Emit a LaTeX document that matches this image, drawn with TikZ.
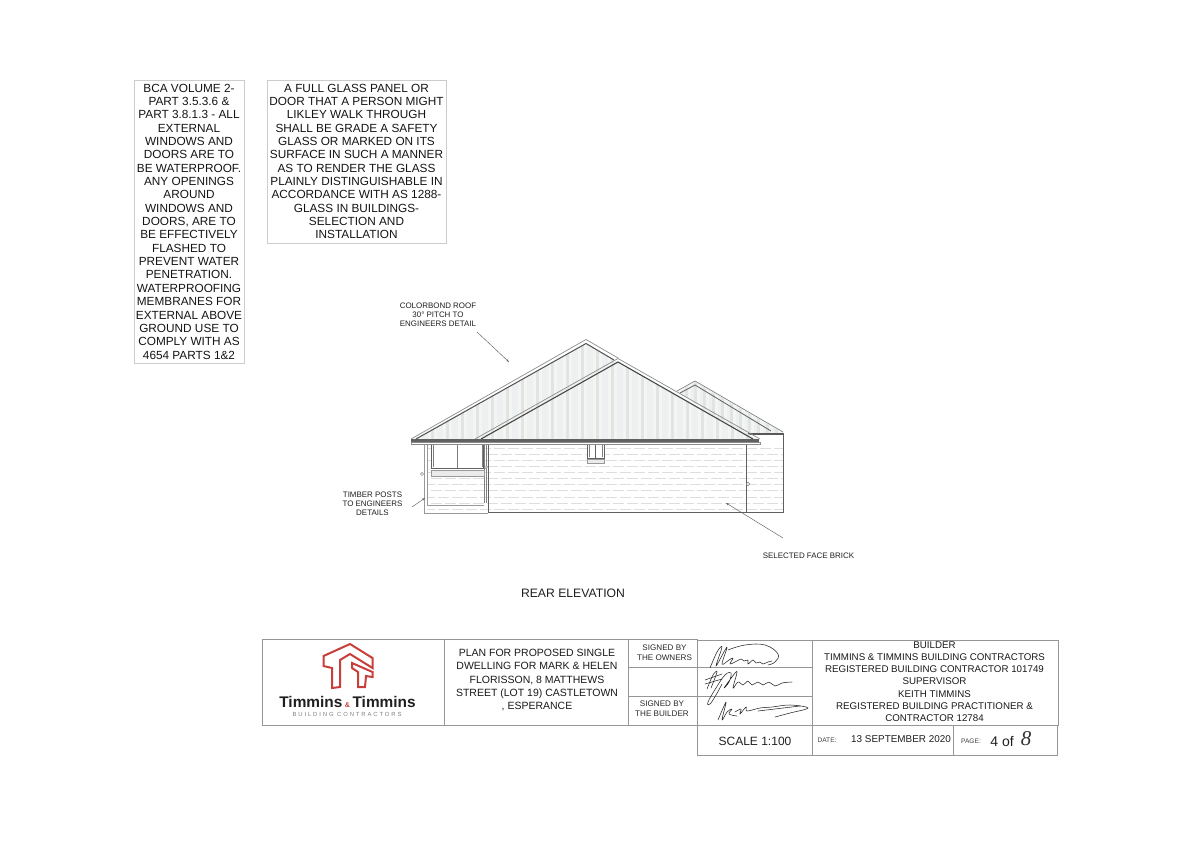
\documentclass[tikz,border=0pt]{standalone}
\usepackage{fontspec}
\setmainfont{Liberation Sans}
\newfontfamily\handfont{Liberation Serif}
\usetikzlibrary{arrows.meta}
\definecolor{logored}{RGB}{200,62,58}
\definecolor{linegray}{RGB}{95,95,95}
\definecolor{framegray}{RGB}{150,150,150}
\definecolor{roofa}{RGB}{236,240,240}
\definecolor{roofb}{RGB}{224,228,228}
\definecolor{roofc}{RGB}{244,244,240}
\tikzset{
	notebox/.style={draw=black!20,line width=.8pt,align=center,inner sep=0pt,text=black!92,font=\fontsize{11.8}{13.35}\selectfont},
	smalllabel/.style={align=center,inner sep=0pt,text=black!88,font=\fontsize{7.95}{9}\selectfont},
	blocktext/.style={align=center,inner sep=0pt,text=black!90,font=\fontsize{10.5}{13.3}\selectfont},
	signedtext/.style={align=center,inner sep=0pt,text=black!85,font=\fontsize{8.1}{9.6}\selectfont},
	leader/.style={draw=linegray,line width=.45pt,-{Stealth[length=3pt,width=2pt]}},
	wall/.style={draw=linegray,line width=.7pt},
	frame/.style={draw=framegray,line width=.8pt},
	sign/.style={draw=black!85,line width=.55pt,line cap=round,line join=round},
	logoline/.style={draw=logored,line width=2pt,line join=miter}
}
\begin{document}
\begin{tikzpicture}[x=1pt,y=-1pt]
	\useasboundingbox (0,0) rectangle (1196,844);
	% notes
	\node[notebox,minimum width=110pt,minimum height=283pt] (bcanote) at (189,221.5) {BCA VOLUME 2-\\PART 3.5.3.6 \&\\PART 3.8.1.3 - ALL\\EXTERNAL\\WINDOWS AND\\DOORS ARE TO\\BE WATERPROOF.\\ANY OPENINGS\\AROUND\\WINDOWS AND\\DOORS, ARE TO\\BE EFFECTIVELY\\FLASHED TO\\PREVENT WATER\\PENETRATION.\\WATERPROOFING\\MEMBRANES FOR\\EXTERNAL ABOVE\\GROUND USE TO\\COMPLY WITH AS\\4654 PARTS 1\&2};
	\node[notebox,minimum width=179pt,minimum height=163pt] (glassnote) at (356.5,161.5) {A FULL GLASS PANEL OR\\DOOR THAT A PERSON MIGHT\\LIKLEY WALK THROUGH\\SHALL BE GRADE A SAFETY\\GLASS OR MARKED ON ITS\\SURFACE IN SUCH A MANNER\\AS TO RENDER THE GLASS\\PLAINLY DISTINGUISHABLE IN\\ACCORDANCE WITH AS 1288-\\GLASS IN BUILDINGS-\\SELECTION AND\\INSTALLATION};
	% back roof
	\begin{scope}
		\clip (678,392) -- (695,382) -- (783,433) -- (740,433) -- cycle;
		\foreach \i in {0,...,36} {
			\pgfmathtruncatemacro{\shade}{mod(\i,3)}
			\ifcase\shade\def\tone{roofa}\or\def\tone{roofb}\else\def\tone{roofc}\fi
			\draw[\tone,line width=3.1pt] ({675+\i*3},375) -- ({675+\i*3},440);
		}
	\end{scope}
	\draw[black!50,line width=.7pt] (677,391) -- (695,381) -- (783,432);
	\draw[black!62,line width=.8pt] (680,393) -- (695,385) -- (771,431);
	\draw[black!65,line width=1.6pt] (748,434) -- (783,434);
	% main roofs
	\begin{scope}
		\clip (414,439) -- (586,343) -- (625,366) -- (757,439) -- cycle;
		\foreach \i in {0,...,118} {
			\pgfmathtruncatemacro{\shade}{mod(\i*\i+\i,5)}
			\ifcase\shade\def\tone{roofa}\or\def\tone{roofb}\or\def\tone{roofc}\or\def\tone{roofa}\else\def\tone{roofc}\fi
			\draw[\tone,line width=3.1pt] ({412+\i*3},335) -- ({412+\i*3},445);
		}
	\end{scope}
	\draw[black!45,line width=.7pt] (411,439) -- (586,339.5) -- (618,358);
	\draw[black!68,line width=1pt] (416,439) -- (586,343.5) -- (614,360);
	\draw[black!45,line width=.7pt] (475,439) -- (618,358.5) -- (760,439);
	\draw[black!72,line width=1.1pt] (481,439) -- (618,362) -- (753,439);
	\fill[black!62] (411,438.8) rectangle (759,442);
	\draw[black!45,line width=.5pt,fill=white] (411,442) rectangle (760,444.5);
	% brick
	\begin{scope}
		\clip (427,445) rectangle (783,512);
		\foreach \i in {0,...,10} {
			\pgfmathsetmacro{\off}{mod(\i,2)*7}
			\draw[black!13,line width=.6pt,dash pattern=on 11pt off 3pt,dash phase=\off pt] (424,{448+\i*6.1}) -- (783,{448+\i*6.1});
		}
		\fill[white] (431,444) rectangle (484,476);
		\fill[white] (587,444) rectangle (604,463);
	\end{scope}
	% walls
	\draw[wall] (488,445) -- (488,512) -- (783,512) -- (783,433);
	\draw[wall] (746,445) -- (746,512);
	\draw[black!40,line width=.6pt] (424,445) -- (424,513) -- (488,513);
	\draw[black!40,line width=.6pt] (427,445) -- (427,505) -- (484,505);
	\draw[black!50,line width=.7pt] (484,445) -- (484,503) (486,445) -- (486,503);
	\draw[black!50,line width=.5pt,fill=white] (748,484) circle (1.8pt);
	\draw[black!50,line width=.5pt,fill=white] (422,474) circle (1.6pt);
	\draw[black!50,line width=.5pt,fill=white] (486,467) circle (1.4pt);
	% windows
	\draw[black!62,line width=.8pt] (431.5,445) -- (431.5,468) -- (483,468) -- (483,445);
	\draw[black!50,line width=.6pt] (433,445) -- (433,467) (482,445) -- (482,467) (457,445) -- (457,468);
	\draw[black!40,line width=.6pt,fill=black!8] (431,470) rectangle (484,476);
	\draw[black!62,line width=.8pt] (587.5,445) -- (587.5,458) -- (604,458) -- (604,445) (595.5,445) -- (595.5,458);
	\draw[black!50,line width=.5pt] (589,445) -- (589,457) (602,445) -- (602,457);
	\draw[black!40,line width=.6pt,fill=black!8] (587,459) rectangle (604,463.5);
	% labels
	\node[smalllabel] (roofnote) at (438,315) {COLORBOND ROOF\\30° PITCH TO\\ENGINEERS DETAIL};
	\node[smalllabel] (postnote) at (372.5,504) {TIMBER POSTS\\TO ENGINEERS\\DETAILS};
	\node[smalllabel] (bricknote) at (808.5,555.5) {SELECTED FACE BRICK};
	\node[inner sep=0pt,text=black!88,font=\fontsize{12.2}{14}\selectfont] (viewtitle) at (573,593) {REAR ELEVATION};
	\coordinate (roofstart) at (477,332);
	\coordinate (roofend) at (509,362);
	\coordinate (poststart) at (412,507);
	\coordinate (postend) at (425,498);
	\coordinate (brickstart) at (783,538);
	\coordinate (brickend) at (726,503);
	\draw[leader] (roofstart) -- (roofend);
	\draw[leader] (poststart) -- (postend);
	\draw[leader] (brickstart) -- (brickend);
	% title block
	\draw[frame] (262,639) rectangle (697,725);
	\draw[frame] (444,639) -- (444,725) (628,639) -- (628,725);
	\draw[frame] (628,667.5) -- (812,667.5) (628,696) -- (812,696);
	\draw[frame] (697,640) -- (1058,640) -- (1058,725) -- (697,725);
	\draw[frame] (812,640) -- (812,755) (697,725) -- (697,755) -- (1057,755) -- (1057,725) (953,725) -- (953,755);
	% logo
	\draw[logoline] (323.5,656) -- (350,644) -- (372.5,658) -- (372.5,668) -- (350,654) -- (340,660) -- (340,687) -- (332,688) -- (332,668) -- (323.5,666) -- cycle;
	\draw[logoline] (352,663) -- (372.5,672) -- (372.5,677) -- (366,676) -- (365,687) -- (358,687) -- (358,672) -- (352,668) -- cycle;
	\node[inner sep=0pt,text=black!88,font=\fontsize{15.4}{18}\selectfont\bfseries] (logoname) at (347.5,702) {Timmins\,{\fontsize{7}{8}\selectfont\color{logored}\&}\,Timmins};
	\node[inner sep=0pt,text=black!50,font=\fontsize{5.9}{7}\selectfont\addfontfeature{LetterSpace=32}] (logosub) at (347,714.5) {BUILDING CONTRACTORS};
	% title block text
	\node[blocktext] (plantext) at (537,680) {PLAN FOR PROPOSED SINGLE\\DWELLING FOR MARK \& HELEN\\FLORISSON, 8 MATTHEWS\\STREET (LOT 19) CASTLETOWN\\, ESPERANCE};
	\node[signedtext] (ownertext) at (664.5,652.5) {SIGNED BY\\THE OWNERS};
	\node[signedtext] (buildertext) at (662,708.5) {SIGNED BY\\THE BUILDER};
	\node[blocktext,font=\fontsize{9.75}{12.2}\selectfont] (buildertitle) at (934.5,681.5) {BUILDER\\TIMMINS \& TIMMINS BUILDING CONTRACTORS\\REGISTERED BUILDING CONTRACTOR 101749\\SUPERVISOR\\KEITH TIMMINS\\REGISTERED BUILDING PRACTITIONER \&\\CONTRACTOR 12784};
	\node[inner sep=0pt,text=black!88,font=\fontsize{12}{14}\selectfont] (scaletext) at (755,741) {SCALE 1:100};
	\node[inner sep=0pt,text=black!75,font=\fontsize{6.6}{8}\selectfont] (datelabel) at (827,740.5) {DATE:};
	\node[inner sep=0pt,text=black!88,font=\fontsize{9.9}{12}\selectfont] (datetext) at (901,739.5) {13 SEPTEMBER 2020};
	\node[inner sep=0pt,text=black!75,font=\fontsize{6.6}{8}\selectfont] (pagelabel) at (971,741) {PAGE:};
	\node[inner sep=0pt,text=black!88,font=\fontsize{14}{16}\selectfont] (pagetext) at (1002,741) {4 of};
	\node[inner sep=0pt,text=black!80,font=\fontsize{21}{22}\selectfont\handfont\itshape] (pagetotal) at (1026,739) {8};
	% signatures
	\draw[sign] plot[smooth,tension=.6] coordinates {(710,668) (717,652) (722,647) (716,666) (725,650) (727,648) (722,664) (729,660) (733,658) (730,664) (735,662) (741,659) (744,661) (748,660) (748,664) (753,660) (756,663) (760,662) (763,664) (768,662) (772,661)};
	\draw[sign] plot[smooth,tension=.7] coordinates {(728,650) (745,645) (765,645) (778,654) (775,662) (768,665)};
	\draw[sign] plot[smooth,tension=.6] coordinates {(707,689) (713,675) (717,672) (711,688)};
	\draw[sign] (705,680) -- (722,674) (705,684) -- (722,679);
	\draw[sign] plot[smooth,tension=.7] coordinates {(722,684) (716,695) (710,704) (708,702) (716,688) (725,675) (731,673) (729,682) (724,688) (732,677) (737,672) (733,688) (738,682) (743,685) (748,681) (752,685) (758,682) (763,685) (769,682) (775,686) (782,683) (792,682)};
	\draw[sign] plot[smooth,tension=.6] coordinates {(718,720) (724,706) (726,703) (722,720) (727,712) (732,709) (729,714) (737,716)};
	\draw[sign] plot[smooth,tension=.6] coordinates {(735,712) (741,709) (740,714) (746,707) (747,711) (760,708) (772,707) (790,705) (808,708) (790,713) (775,717)};
	\draw[sign] (758,711) -- (800,706);
\end{tikzpicture}
\end{document}
